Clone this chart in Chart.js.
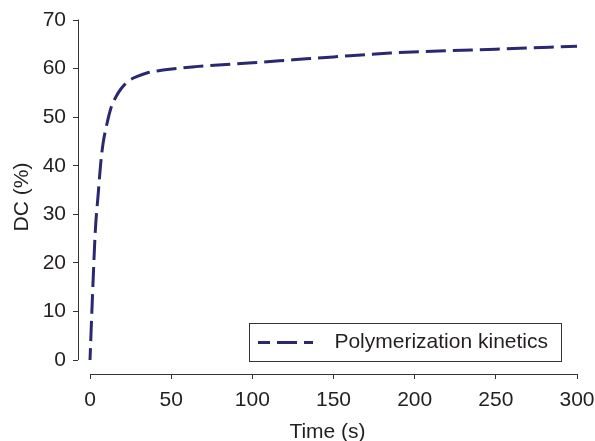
<!DOCTYPE html>
<html>
<head>
<meta charset="utf-8">
<script src="https://cdn.jsdelivr.net/npm/chart.js@4"></script>
<style>
  body { margin: 0; background: #fff; }
  #wrap { width: 595px; height: 441px; }
</style>
</head>
<body>
<div id="wrap"><canvas id="myChart" width="595" height="441"></canvas></div>
<script>
// data
const timeS = [0, 1.5, 3.3, 5, 6.6, 8, 10, 13, 16, 19, 24, 30, 35, 45, 65, 100, 125, 150, 185, 215, 250, 300];
const dcPct = [0, 13, 26.8, 34, 40.5, 44.5, 48, 52, 54.2, 55.8, 57.5, 58.5, 59.1, 59.7, 60.4, 61.2, 61.8, 62.4, 63.2, 63.6, 64.0, 64.6];
const xTicks = [0, 50, 100, 150, 200, 250, 300];
const yTicks = [0, 10, 20, 30, 40, 50, 60, 70];
const seriesName = 'Polymerization kinetics';

const ink = '#231f20';
const lineCol = '#2a2870';
const font = { family: "'Liberation Sans', Arial, sans-serif", size: 21 };
const dash = [20, 7];

// legend frame (box drawn by hand, text right aligned inside)
const legendBox = { left: 249, top: 323, right: 561, bottom: 361, textRight: 548 };

// R-style detached axes + legend frame
const axesPlugin = {
    id: 'axesPlugin',
    afterLayout(chart) {
        const lg = chart.legend;
        lg.left = legendBox.left;
        lg.top = legendBox.top;
        lg.right = legendBox.textRight;
        lg.bottom = legendBox.bottom;
        lg.width = lg.right - lg.left;
        lg.height = lg.bottom - lg.top;
    },
    afterDraw(chart) {
        const c = chart.ctx;
        const xs = chart.scales.x, ys = chart.scales.y;
        const area = chart.chartArea;
        c.save();
        c.strokeStyle = '#333';
        c.lineWidth = 1;
        c.beginPath();
        c.moveTo(xs.getPixelForValue(xTicks[0]), area.bottom + 0.5);
        c.lineTo(xs.getPixelForValue(xTicks[xTicks.length - 1]) + 0.5, area.bottom + 0.5);
        c.moveTo(area.left + 0.5, ys.getPixelForValue(yTicks[0]));
        c.lineTo(area.left + 0.5, ys.getPixelForValue(yTicks[yTicks.length - 1]) - 0.5);
        c.stroke();
        c.strokeRect(legendBox.left + 0.5, legendBox.top + 0.5,
            legendBox.right - legendBox.left, legendBox.bottom - legendBox.top);
        c.restore();
    }
};

const ctx = document.getElementById('myChart').getContext('2d');
const myChart = new Chart(ctx, {
    type: 'line',
    data: {
        datasets: [{
            label: seriesName,
            data: timeS.map((t, i) => ({ x: t, y: dcPct[i] })),
            borderColor: lineCol,
            backgroundColor: lineCol,
            borderWidth: 3,
            borderDash: dash,
            borderDashOffset: 8,
            pointRadius: 0,
            cubicInterpolationMode: 'monotone',
            fill: false
        }]
    },
    options: {
        responsive: false,
        animation: false,
        devicePixelRatio: 1,
        layout: { padding: { top: 20, right: 18, left: 0, bottom: 0 } },
        scales: {
            x: {
                type: 'linear',
                min: -7.4,
                max: 300,
                afterBuildTicks: (s) => { s.ticks = xTicks.map(v => ({ value: v })); },
                afterFit: (s) => { s.height = 67; s.paddingLeft = 0; s.paddingRight = 0; },
                grid: { drawOnChartArea: false, drawTicks: true, tickLength: 5, color: '#333' },
                border: { display: false },
                ticks: { color: ink, font: font, padding: 9, maxRotation: 0 },
                title: { display: true, text: 'Time (s)', color: ink, font: font, padding: { top: 0, bottom: -4 } }
            },
            y: {
                min: -2.88,
                max: 70,
                afterBuildTicks: (s) => { s.ticks = yTicks.map(v => ({ value: v })); },
                afterFit: (s) => { s.width = 78; s.paddingTop = 0; s.paddingBottom = 0; },
                grid: { drawOnChartArea: false, drawTicks: true, tickLength: 5, color: '#333' },
                border: { display: false },
                ticks: { color: ink, font: font, padding: 7 },
                title: { display: true, text: 'DC (%)', color: ink, font: font, padding: { top: 10, bottom: 0 } }
            }
        },
        plugins: {
            legend: {
                position: 'chartArea',
                align: 'start',
                labels: {
                    color: ink,
                    font: font,
                    usePointStyle: true,
                    pointStyle: 'line',
                    pointStyleWidth: 55,
                    boxHeight: 21,
                    padding: 9,
                    textAlign: 'right',
                    generateLabels: (chart) => Chart.defaults.plugins.legend.labels.generateLabels(chart).map(l => {
                        const ds = chart.data.datasets[l.datasetIndex];
                        l.lineDash = ds.borderDash;
                        l.lineDashOffset = ds.borderDashOffset;
                        l.lineWidth = ds.borderWidth;
                        l.strokeStyle = ds.borderColor;
                        return l;
                    })
                }
            },
            tooltip: { enabled: false }
        }
    },
    plugins: [axesPlugin]
});
</script>
</body>
</html>
